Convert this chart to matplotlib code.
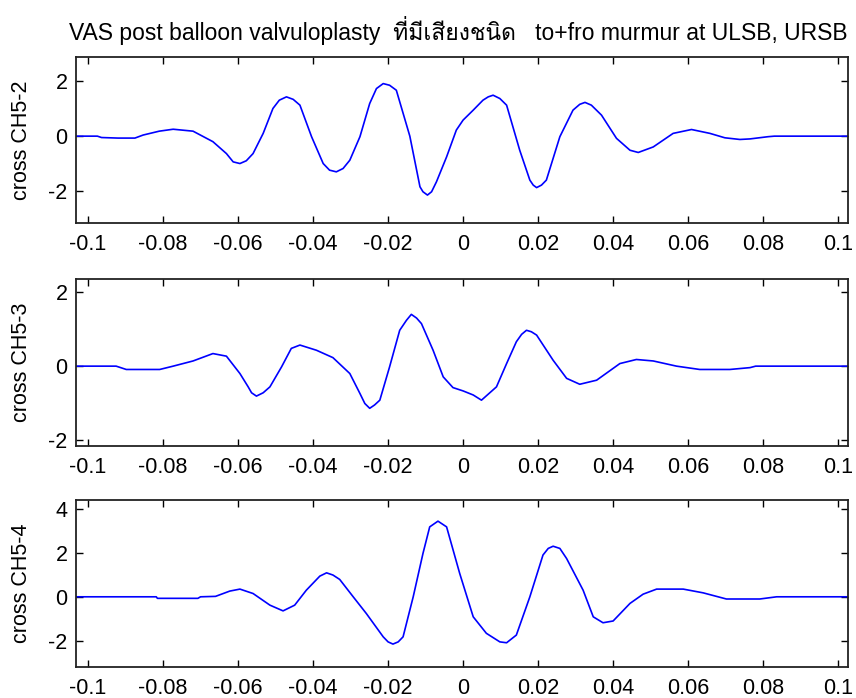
import matplotlib
matplotlib.use('Agg')
import matplotlib.pyplot as plt
from matplotlib import font_manager
from matplotlib.ft2font import FT2Font

# look for any installed font that carries Thai glyphs
thai_fonts = []
for f in font_manager.fontManager.ttflist:
    try:
        if 0x0E17 in FT2Font(f.fname).get_charmap():
            thai_fonts.append(f.name)
    except Exception:
        pass
plt.rcParams['font.family'] = ['Liberation Sans'] + thai_fonts[:1] + ['DejaVu Sans']

title = 'VAS post balloon valvuloplasty  ที่มีเสียงชนิด   to+fro murmur at ULSB, URSB'
ylabels = ['cross CH5-2', 'cross CH5-3', 'cross CH5-4']
xticks = [-0.1, -0.08, -0.06, -0.04, -0.02, 0, 0.02, 0.04, 0.06, 0.08, 0.1]
xtick_labels = ['-0.1', '-0.08', '-0.06', '-0.04', '-0.02', '0', '0.02', '0.04', '0.06', '0.08', '0.1']
yticks = [[-2, 0, 2], [-2, 0, 2], [-2, 0, 2, 4]]
ylims = [(-3.14, 2.86), (-2.16, 2.37), (-3.18, 4.4)]

x1 = [-0.103, -0.0975, -0.0964, -0.092, -0.0875, -0.0853, -0.081, -0.0773, -0.072, -0.0667,
      -0.0631, -0.0613, -0.0595, -0.0578, -0.056, -0.0533, -0.0507, -0.049, -0.0471, -0.0453,
      -0.0435, -0.0404, -0.0373, -0.0356, -0.0338, -0.032, -0.0302, -0.0275, -0.0249, -0.0231,
      -0.0213, -0.0196, -0.0178, -0.0142, -0.0115, -0.0107, -0.0095, -0.0084, -0.0071, -0.0044,
      -0.0018, 0.0, 0.0027, 0.0053, 0.0067, 0.008, 0.0098, 0.0116, 0.0151, 0.0178,
      0.0187, 0.0196, 0.0209, 0.0222, 0.0258, 0.0293, 0.0311, 0.0325, 0.0342, 0.0369,
      0.0409, 0.0445, 0.0467, 0.0507, 0.056, 0.0609, 0.0658, 0.0698, 0.0738, 0.0765,
      0.0813, 0.083, 0.103]
y1 = [0, 0, -0.05, -0.07, -0.07, 0.04, 0.18, 0.25, 0.18, -0.2,
      -0.63, -0.93, -0.99, -0.89, -0.63, 0.1, 1.0, 1.3, 1.42, 1.33,
      1.12, -0.02, -0.99, -1.23, -1.29, -1.17, -0.87, -0.02, 1.18, 1.72,
      1.9, 1.84, 1.66, 0.0, -1.83, -2.01, -2.13, -2.01, -1.65, -0.75,
      0.22, 0.58, 0.94, 1.3, 1.42, 1.48, 1.36, 1.12, -0.51, -1.59,
      -1.77, -1.86, -1.77, -1.59, -0.02, 0.94, 1.15, 1.22, 1.12, 0.76,
      -0.08, -0.51, -0.59, -0.39, 0.1, 0.24, 0.1, -0.06, -0.12, -0.1,
      -0.02, 0, 0]

x2 = [-0.103, -0.0925, -0.0898, -0.0809, -0.0773, -0.072, -0.0667, -0.0631, -0.0595, -0.0573,
      -0.0564, -0.0551, -0.0533, -0.0515, -0.0484, -0.0458, -0.0435, -0.0391, -0.0347, -0.0302,
      -0.0275, -0.0262, -0.0249, -0.0236, -0.0222, -0.0196, -0.0169, -0.0151, -0.0138, -0.0124,
      -0.0111, -0.008, -0.0053, -0.0027, 0.0, 0.0027, 0.0049, 0.0089, 0.0116, 0.0142,
      0.0156, 0.0169, 0.0182, 0.0196, 0.024, 0.0276, 0.0311, 0.0356, 0.0418, 0.0462,
      0.0507, 0.0569, 0.0631, 0.0711, 0.0765, 0.078, 0.103]
y2 = [0, 0, -0.09, -0.09, 0, 0.14, 0.34, 0.27, -0.2, -0.56,
      -0.72, -0.81, -0.72, -0.56, -0.02, 0.48, 0.57, 0.43, 0.23, -0.2,
      -0.74, -1.01, -1.14, -1.05, -0.92, -0.02, 0.97, 1.24, 1.4, 1.3,
      1.15, 0.43, -0.29, -0.58, -0.67, -0.78, -0.92, -0.56, 0.07, 0.66,
      0.86, 0.97, 0.93, 0.84, 0.16, -0.33, -0.49, -0.38, 0.07, 0.18,
      0.14, 0.0, -0.09, -0.09, -0.04, 0, 0]

x3 = [-0.103, -0.0818, -0.0815, -0.0707, -0.07, -0.066, -0.0622, -0.0595, -0.056, -0.0515,
      -0.048, -0.0449, -0.0418, -0.0382, -0.0364, -0.0347, -0.0329, -0.0293, -0.0258, -0.0213,
      -0.02, -0.0187, -0.0173, -0.016, -0.0133, -0.0107, -0.0089, -0.0067, -0.0044, -0.0009,
      0.0027, 0.0062, 0.0098, 0.0116, 0.0142, 0.0178, 0.0213, 0.0227, 0.024, 0.0258,
      0.0276, 0.032, 0.0347, 0.0373, 0.04, 0.0445, 0.048, 0.0516, 0.0587, 0.064,
      0.0702, 0.0791, 0.0836, 0.103]
y3 = [0, 0, -0.07, -0.07, 0, 0.02, 0.26, 0.35, 0.15, -0.38,
      -0.64, -0.38, 0.3, 0.94, 1.09, 0.99, 0.79, 0.0, -0.76, -1.82,
      -2.05, -2.15, -2.05, -1.82, 0.0, 1.97, 3.18, 3.44, 3.18, 1.06,
      -0.91, -1.66, -2.05, -2.09, -1.74, 0.0, 1.9, 2.2, 2.3, 2.2,
      1.74, 0.3, -0.91, -1.18, -1.1, -0.3, 0.12, 0.35, 0.35, 0.18,
      -0.1, -0.1, 0, 0]

series = [(x1, y1), (x2, y2), (x3, y3)]
# axes boxes in figure fractions [left, bottom, width, height]
boxes = [[0.0888, 0.6805, 0.9022, 0.2378],
         [0.0888, 0.3610, 0.9022, 0.2400],
         [0.0888, 0.0448, 0.9022, 0.2388]]

fig = plt.figure(figsize=(8.56, 6.98), dpi=100)
for i in range(3):
    ax = fig.add_axes(boxes[i])
    xs, ys = series[i]
    ax.plot(xs, ys, color='#0000ff', lw=1.2)
    ax.set_xlim(-0.1032, 0.1027)
    ax.set_ylim(*ylims[i])
    ax.set_xticks(xticks)
    ax.set_xticklabels(xtick_labels)
    ax.set_yticks(yticks[i])
    ax.set_yticklabels([str(v) for v in yticks[i]])
    ax.tick_params(direction='in', top=True, right=True, length=5, width=1,
                   labelsize=15.5, colors='#000000')
    ax.tick_params(axis='x', pad=8)
    ax.tick_params(axis='y', pad=6)
    ax.set_ylabel(ylabels[i], fontsize=15.5)
    ax.yaxis.set_label_coords(-0.057, 0.5)
    for s in ax.spines.values():
        s.set_linewidth(1.3)
        s.set_color('#222222')

fig.text(0.535, 0.957, title, ha='center', va='center', fontsize=16.5)
fig.savefig('out.png', dpi=100)
